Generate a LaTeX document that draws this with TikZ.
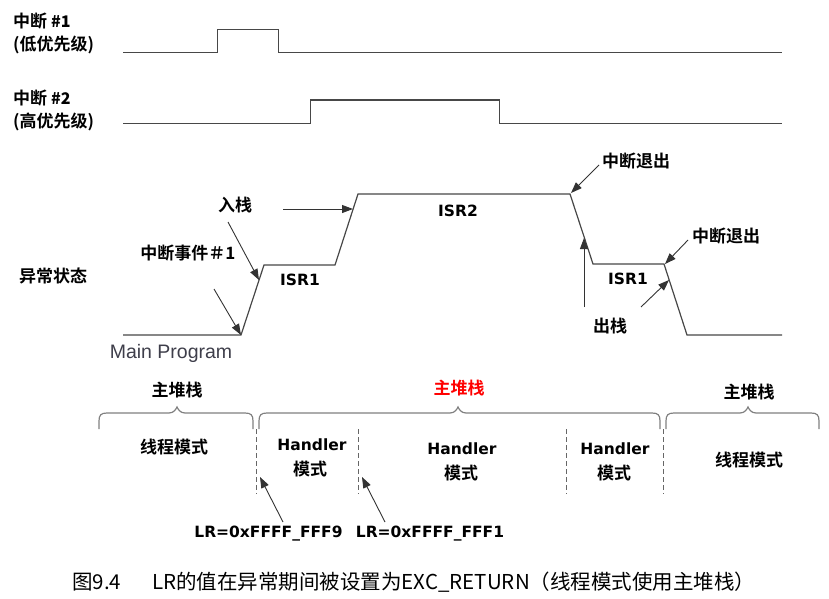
\documentclass[tikz,border=0pt]{standalone}
\usepackage{fontspec}
\setmainfont{DejaVu Sans}
\newfontfamily\cjkb{Noto Sans CJK SC Bold}
\newfontfamily\cjk{Noto Sans CJK SC}
\newfontfamily\lib{Liberation Sans}
\usetikzlibrary{arrows.meta}
\definecolor{mpgray}{RGB}{62,62,74}
\tikzset{
  lbl/.style={inner sep=0pt, font=\cjkb\fontsize{17}{20}\selectfont},
  lat/.style={inner sep=0pt, font=\bfseries\fontsize{15.5}{18}\selectfont},
  wave/.style={draw=black!72, line width=1.2pt},
  arr/.style={draw=black!80, line width=0.9pt, -{Triangle[length=11pt,width=8pt]}},
  brc/.style={draw=black!50, line width=1.2pt},
  dsh/.style={draw=black!60, line width=0.9pt, dash pattern=on 5pt off 3pt},
}
\newcommand\mybrace[3]{%
  \draw[brc] (#1,429) -- (#1,421) .. controls (#1,415) and ({#1+2},413) .. ({#1+8},413)
    -- ({#2-8},413) .. controls ({#2-3},413) and ({#2-1},409) .. (#2,407)
    .. controls ({#2+1},409) and ({#2+3},413) .. ({#2+8},413)
    -- ({#3-8},413) .. controls ({#3-2},413) and (#3,415) .. (#3,421) -- (#3,429);}
\begin{document}
\begin{tikzpicture}[x=1pt,y=-1pt]
\useasboundingbox (0,0) rectangle (829,599);
% ---------- labels left ----------
\node[lbl,anchor=west] (i1a) at (13,21.5) {中断 {\bfseries\fontsize{16}{18}\selectfont\#1}};
\node[lbl,anchor=west] (i1b) at (13,45) {(低优先级)};
\node[lbl,anchor=west] (i2a) at (13,98) {中断 {\bfseries\fontsize{16}{18}\selectfont\#2}};
\node[lbl,anchor=west] (i2b) at (13,122) {(高优先级)};
\node[lbl] (exc) at (53,275.5) {异常状态};
% ---------- interrupt waveforms ----------
\draw[wave] (123,52.7) -- (217.3,52.7) -- (217.3,29.7) -- (278.3,29.7) -- (278.3,52.7) -- (781.7,52.7);
\draw[wave] (123,123.3) -- (310.7,123.3) -- (310.7,100) -- (499.3,100) -- (499.3,123.3) -- (781.7,123.3);
% ---------- exception state waveform ----------
\coordinate (m0) at (123,335);
\coordinate (m1) at (241,335);
\coordinate (r1) at (264,265);
\coordinate (r2) at (335,265);
\coordinate (h1) at (358,194);
\coordinate (h2) at (570,194);
\coordinate (s1) at (593,264);
\coordinate (s2) at (664,264);
\coordinate (e1) at (687,335);
\coordinate (e2) at (782,335);
\draw[wave] (m0) -- (m1) -- (r1) -- (r2) -- (h1) -- (h2) -- (s1) -- (s2) -- (e1) -- (e2);
% ---------- state labels ----------
\node[lbl] (evt) at (188,253) {中断事件＃1};
\node[lbl] (push) at (235,205) {入栈};
\node[lat] (isr1a) at (300,280) {ISR1};
\node[inner sep=0pt,anchor=base,font=\lib\fontsize{19.5}{22}\selectfont,text=mpgray] (mainp) at (171,358) {Main Program};
\node[lat] (isr2) at (458,211) {ISR2};
\node[lbl] (exit1) at (636,161) {中断退出};
\node[lbl] (exit2) at (726,236) {中断退出};
\node[lat] (isr1b) at (628,279) {ISR1};
\node[lbl] (pop) at (610,326) {出栈};
% ---------- arrows ----------
\coordinate (t1) at (214,289);
\coordinate (t2) at (228,222);  \coordinate (p2) at (259,280);
\coordinate (t3) at (283,209);  \coordinate (p3) at (353,209);
\coordinate (t4) at (599,165);  \coordinate (p4) at (571,193);
\coordinate (t5) at (584,307);  \coordinate (p5) at (584,238);
\coordinate (t6) at (641,307);  \coordinate (p6) at (669,280);
\coordinate (t7) at (688,240);  \coordinate (p7) at (665,264);
\draw[arr] (t1) -- (m1);
\draw[arr] (t2) -- (p2);
\draw[arr] (t3) -- (p3);
\draw[arr] (t4) -- (p4);
\draw[arr] (t5) -- (p5);
\draw[arr] (t6) -- (p6);
\draw[arr] (t7) -- (p7);
% ---------- stacks and braces ----------
\node[lbl] (ms1) at (177,390) {主堆栈};
\node[lbl,text=red] (ms2) at (459,388) {主堆栈};
\node[lbl] (ms3) at (749,392) {主堆栈};
\mybrace{99}{177}{253}
\mybrace{259}{458}{660}
\mybrace{666}{748}{819}
% ---------- modes ----------
\node[lbl] (thr1) at (174,447) {线程模式};
\node[lat] (hd1) at (312,445) {Handler};
\node[lbl] (hm1) at (310,469) {模式};
\node[lat] (hd2) at (462,449) {Handler};
\node[lbl] (hm2) at (461,473) {模式};
\node[lat] (hd3) at (615,449) {Handler};
\node[lbl] (hm3) at (614,473) {模式};
\node[lbl] (thr3) at (749,460) {线程模式};
% ---------- dashed separators ----------
\draw[dsh] (256,429) -- (256,494);
\draw[dsh] (358,429) -- (358,494);
\draw[dsh] (566,429) -- (566,494);
\draw[dsh] (663,429) -- (663,494);
% ---------- LR labels ----------
\node[lat] (lr9) at (268.5,534) {LR=0xFFFF\_FFF9};
\node[lat] (lr1) at (430,534) {LR=0xFFFF\_FFF1};
\coordinate (q1) at (283,522); \coordinate (q1t) at (260,477);
\coordinate (q2) at (385,522); \coordinate (q2t) at (362,477);
\draw[arr] (q1) -- (q1t);
\draw[arr] (q2) -- (q2t);
% ---------- caption ----------
\node[inner sep=0pt,anchor=west,font=\cjk\fontsize{20.5}{24}\selectfont] (capn) at (72,582.5) {图9.4};
\node[inner sep=0pt,anchor=west,font=\cjk\fontsize{20.5}{24}\selectfont] (capt) at (152,582.5) {LR的值在异常期间被设置为EXC\_RETURN（线程模式使用主堆栈）};
\end{tikzpicture}
\end{document}
